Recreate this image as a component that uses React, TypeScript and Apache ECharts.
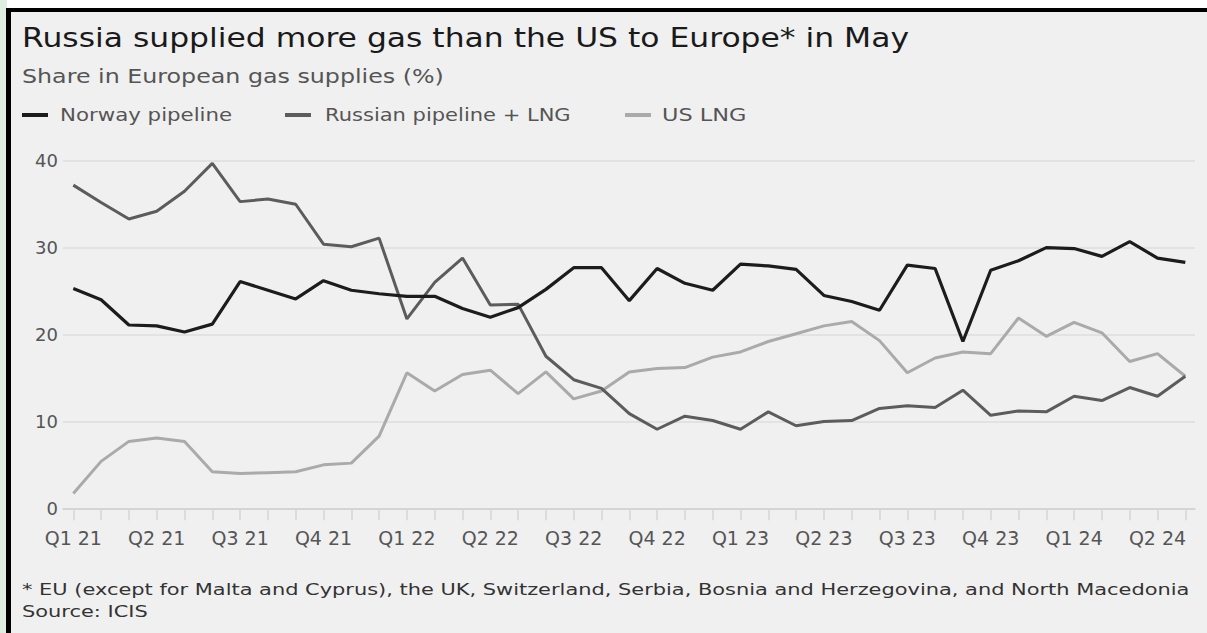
import React, { useEffect, useRef } from "react";
import * as echarts from "echarts";

const months = [
  "Jan 21", "Feb 21", "Mar 21", "Apr 21", "May 21", "Jun 21", "Jul 21", "Aug 21", "Sep 21", "Oct 21", "Nov 21", "Dec 21",
  "Jan 22", "Feb 22", "Mar 22", "Apr 22", "May 22", "Jun 22", "Jul 22", "Aug 22", "Sep 22", "Oct 22", "Nov 22", "Dec 22",
  "Jan 23", "Feb 23", "Mar 23", "Apr 23", "May 23", "Jun 23", "Jul 23", "Aug 23", "Sep 23", "Oct 23", "Nov 23", "Dec 23",
  "Jan 24", "Feb 24", "Mar 24", "Apr 24", "May 24",
];

const quarterLabels = [
  "Q1 21", "Q2 21", "Q3 21", "Q4 21", "Q1 22", "Q2 22", "Q3 22",
  "Q4 22", "Q1 23", "Q2 23", "Q3 23", "Q4 23", "Q1 24", "Q2 24",
];

const norway = [
  25.3, 24.0, 21.1, 21.0, 20.3, 21.2, 26.1, 25.1, 24.1, 26.2, 25.1, 24.7,
  24.4, 24.4, 23.0, 22.0, 23.1, 25.2, 27.7, 27.7, 23.9, 27.6, 25.9, 25.1,
  28.1, 27.9, 27.5, 24.5, 23.8, 22.8, 28.0, 27.6, 19.2, 27.4, 28.5, 30.0,
  29.9, 29.0, 30.7, 28.8, 28.3,
];

const russia = [
  37.2, 35.2, 33.3, 34.2, 36.5, 39.7, 35.3, 35.6, 35.0, 30.4, 30.1, 31.1,
  21.8, 26.0, 28.8, 23.4, 23.5, 17.5, 14.8, 13.8, 10.9, 9.1, 10.6, 10.1,
  9.1, 11.1, 9.5, 10.0, 10.1, 11.5, 11.8, 11.6, 13.6, 10.7, 11.2, 11.1,
  12.9, 12.4, 13.9, 12.9, 15.2,
];

const usLng = [
  1.7, 5.4, 7.7, 8.1, 7.7, 4.2, 4.0, 4.1, 4.2, 5.0, 5.2, 8.3,
  15.6, 13.5, 15.4, 15.9, 13.2, 15.7, 12.6, 13.5, 15.7, 16.1, 16.2, 17.4,
  18.0, 19.2, 20.1, 21.0, 21.5, 19.3, 15.6, 17.3, 18.0, 17.8, 21.9, 19.8,
  21.4, 20.2, 16.9, 17.8, 15.2,
];

const seriesNames = ["Norway pipeline", "Russian pipeline + LNG", "US LNG"];
const seriesColors = ["#1c1c1c", "#5c5c5c", "#aaaaaa"];

const FONT = "DejaVu Sans";

export default function App() {
  const ref = useRef<HTMLDivElement>(null);

  useEffect(() => {
    const chart = echarts.init(ref.current!, null, { renderer: "svg" });
    const legendX = [
      { line: 22, text: 60 },
      { line: 285, text: 325 },
      { line: 625, text: 662 },
    ];
    const legendScale = [1.255, 1.237, 1.32];
    const legendGraphics: any[] = [];
    seriesNames.forEach((name, i) => {
      legendGraphics.push({
        type: "rect",
        shape: { x: legendX[i].line, y: 113, width: 26, height: 4 },
        style: { fill: seriesColors[i] },
      });
      legendGraphics.push({
        type: "text",
        x: legendX[i].text,
        y: 115,
        scaleX: legendScale[i],
        style: {
          text: name,
          font: `17px "${FONT}"`,
          fill: "#555555",
          verticalAlign: "middle",
        },
      });
    });

    chart.setOption({
      animation: false,
      graphic: [
        {
          type: "text",
          x: 22,
          y: 38,
          scaleX: 1.163,
          style: {
            text: "Russia supplied more gas than the US to Europe* in May",
            font: `27px "${FONT}"`,
            fill: "#1a1a1a",
            verticalAlign: "middle",
          },
        },
        {
          type: "text",
          x: 22,
          y: 76,
          scaleX: 1.25,
          style: {
            text: "Share in European gas supplies (%)",
            font: `19px "${FONT}"`,
            fill: "#555555",
            verticalAlign: "middle",
          },
        },
        ...legendGraphics,
        {
          type: "text",
          x: 22,
          y: 589,
          scaleX: 1.268,
          style: {
            text: "* EU (except for Malta and Cyprus), the UK, Switzerland, Serbia, Bosnia and Herzegovina, and North Macedonia",
            font: `16.5px "${FONT}"`,
            fill: "#333333",
            verticalAlign: "middle",
          },
        },
        {
          type: "text",
          x: 22,
          y: 611,
          scaleX: 1.268,
          style: {
            text: "Source: ICIS",
            font: `16.5px "${FONT}"`,
            fill: "#333333",
            verticalAlign: "middle",
          },
        },
      ],
      grid: [
        { left: 63, top: 160.8, width: 1132, height: 347.5, containLabel: false },
        { left: 73.3, top: 160.8, width: 1112, height: 347.5, containLabel: false },
      ],
      xAxis: [
        {
          type: "value",
          gridIndex: 0,
          min: 0,
          max: 1,
          axisLine: { show: true, lineStyle: { color: "#cfcfcf", width: 1.5 } },
          axisTick: { show: false },
          axisLabel: { show: false },
          splitLine: { show: false },
        },
        {
          type: "category",
          gridIndex: 1,
          data: months,
          boundaryGap: false,
          axisLine: { show: false },
          axisTick: {
            show: true,
            interval: 0,
            length: 12,
            lineStyle: { color: "#d6d6d6", width: 1.5 },
          },
          axisLabel: {
            interval: 0,
            margin: 20,
            fontFamily: FONT,
            fontSize: 19,
            color: "#555555",
            formatter: (_v: string, idx: number) =>
              idx % 3 === 0 ? quarterLabels[idx / 3] : "",
          },
          splitLine: { show: false },
        },
      ],
      yAxis: [
        {
          type: "value",
          gridIndex: 0,
          min: 0,
          max: 40,
          interval: 10,
          axisLine: { show: false },
          axisTick: { show: false },
          axisLabel: {
            margin: 5,
            fontFamily: FONT,
            fontSize: 18,
            color: "#555555",
          },
          splitLine: { show: true, lineStyle: { color: "#dedede", width: 1.5 } },
        },
        {
          type: "value",
          gridIndex: 1,
          min: 0,
          max: 40,
          interval: 10,
          show: false,
          splitLine: { show: false },
        },
      ],
      series: [
        {
          name: seriesNames[2],
          type: "line",
          xAxisIndex: 1,
          yAxisIndex: 1,
          data: usLng,
          symbol: "none",
          lineStyle: { color: seriesColors[2], width: 3 },
          itemStyle: { color: seriesColors[2] },
        },
        {
          name: seriesNames[1],
          type: "line",
          xAxisIndex: 1,
          yAxisIndex: 1,
          data: russia,
          symbol: "none",
          lineStyle: { color: seriesColors[1], width: 3 },
          itemStyle: { color: seriesColors[1] },
        },
        {
          name: seriesNames[0],
          type: "line",
          xAxisIndex: 1,
          yAxisIndex: 1,
          data: norway,
          symbol: "none",
          lineStyle: { color: seriesColors[0], width: 3.2 },
          itemStyle: { color: seriesColors[0] },
        },
      ],
    });
    return () => chart.dispose();
  }, []);

  return (
    <div
      style={{
        position: "fixed",
        left: 0,
        top: 0,
        width: 1207,
        height: 633,
        background: "#ffffff",
        overflow: "hidden",
      }}
    >
      <div style={{ position: "absolute", left: 0, top: 0, width: 7, height: 633, background: "#dcefe0" }} />
      <div style={{ position: "absolute", left: 6, top: 8, width: 1201, height: 4, background: "#000000" }} />
      <div style={{ position: "absolute", left: 6, top: 8, width: 5, height: 625, background: "#000000" }} />
      <div style={{ position: "absolute", left: 11, top: 12, width: 1196, height: 621, background: "#f0f0f0" }} />
      <div ref={ref} style={{ position: "absolute", left: 0, top: 0, width: 1207, height: 633 }} />
    </div>
  );
}
